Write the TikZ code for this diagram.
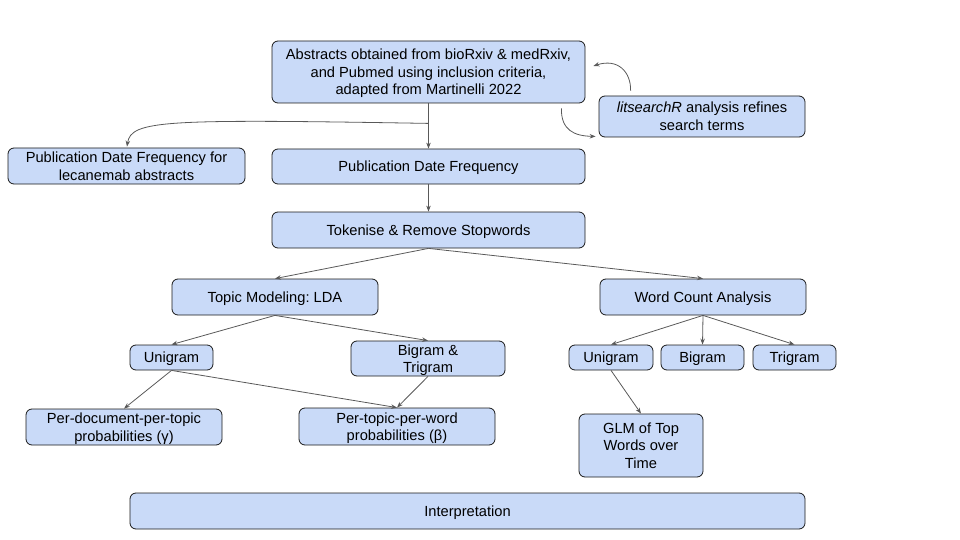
\documentclass[tikz,border=0pt]{standalone}
\usepackage{fontspec}
\setmainfont{Liberation Sans}
\frenchspacing
\usetikzlibrary{arrows.meta,calc}
\definecolor{boxfill}{HTML}{C9DAF8}
\definecolor{linegray}{HTML}{595959}
\tikzset{
  box/.style={draw=black!90, line width=0.8pt, fill=boxfill, rounded corners=6pt,
    inner sep=0pt, align=center, font=\fontsize{14.67}{17.5}\selectfont\frenchspacing,
    text height=10.5pt, text depth=0pt},
  two/.style={text height=28pt},
  three/.style={text height=45.5pt},
  conn/.style={draw=linegray, line width=0.8pt, -{Stealth[length=6pt,width=4.5pt]}},
}
\begin{document}
\begin{tikzpicture}[x=1pt,y=-1pt]
\useasboundingbox (0,0) rectangle (960,540);
% nodes
\node[box, three, minimum width=313, minimum height=62] (abs) at (428.5,72)
  {Abstracts obtained from bioRxiv \& medRxiv,\\and Pubmed using inclusion criteria,\\adapted from Martinelli 2022};
\node[box, two, minimum width=206, minimum height=41] (lit) at (702,116.5)
  {\textit{litsearchR} analysis refines\\search terms};
\node[box, two, minimum width=237, minimum height=36] (lec) at (126.5,166)
  {Publication Date Frequency for\\lecanemab abstracts};
\node[box, minimum width=313, minimum height=35] (pdf) at (428.5,166.5)
  {Publication Date Frequency};
\node[box, minimum width=313, minimum height=36] (tok) at (428.5,230)
  {Tokenise \& Remove Stopwords};
\node[box, minimum width=206, minimum height=36] (lda) at (275,297)
  {Topic Modeling: LDA};
\node[box, minimum width=206, minimum height=36] (wca) at (703,297)
  {Word Count Analysis};
\node[box, minimum width=83, minimum height=25] (uniL) at (171.5,357.5)
  {Unigram};
\node[box, two, minimum width=154, minimum height=35] (bitri) at (428,358.5)
  {Bigram \&\\Trigram};
\node[box, minimum width=84, minimum height=25] (uniR) at (611,357.5)
  {Unigram};
\node[box, minimum width=83, minimum height=25] (bi) at (702.5,357.5)
  {Bigram};
\node[box, minimum width=83, minimum height=25] (tri) at (794.5,357.5)
  {Trigram};
\node[box, two, minimum width=196, minimum height=36] (gam) at (124,427)
  {Per-document-per-topic\\probabilities (γ)};
\node[box, two, minimum width=196, minimum height=37] (bet) at (397,426.5)
  {Per-topic-per-word\\probabilities (β)};
\node[box, three, minimum width=124, minimum height=63] (glm) at (641,445.5)
  {GLM of Top\\Words over\\Time};
\node[box, minimum width=675, minimum height=36] (interp) at (467.5,511)
  {Interpretation};
% helper coordinates
\coordinate (j) at ($(abs.south)+(0,20)$);
\coordinate (a1) at ($(abs.south east)+(-24,5)$);
\coordinate (l1) at ($(lit.south west)+(-3,-1)$);
\coordinate (l2) at ($(lit.north west)+(32,-5)$);
\coordinate (a2) at ($(abs.east)+(8,-6)$);
\coordinate (lecTop) at ($(lec.north)+(0.5,-1)$);
% connectors
\draw[conn] (abs.south) -- (pdf.north);
\draw[conn] (j) .. controls (165,119) and (131,120) .. (lecTop);
\draw[conn] (a1) .. controls (561,130) and (574,136) .. (l1);
\draw[conn] (l2) .. controls (631,72) and (618,58) .. (a2);
\draw[conn] (pdf.south) -- (tok.north);
\draw[conn] (tok.south) -- (lda.north);
\draw[conn] (tok.south) -- (wca.north);
\draw[conn] (lda.south) -- (uniL.north);
\draw[conn] (lda.south) -- (bitri.north);
\draw[conn] (uniL.south) -- (gam.north);
\draw[conn] (uniL.south) -- (bet.north);
\draw[conn] (bitri.south) -- (bet.north);
\draw[conn] (wca.south) -- (uniR.north);
\draw[conn] (wca.south) -- (bi.north);
\draw[conn] (wca.south) -- (tri.north);
\draw[conn] (uniR.south) -- (glm.north);
\end{tikzpicture}
\end{document}
